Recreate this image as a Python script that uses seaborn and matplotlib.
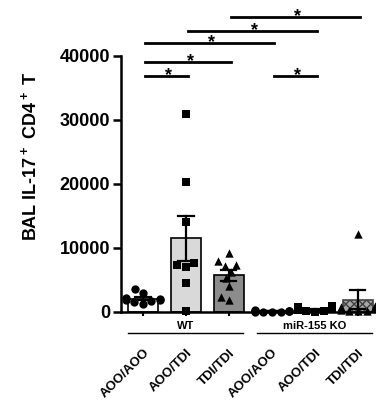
import numpy as np
import pandas as pd
import matplotlib
matplotlib.use('Agg')
import matplotlib.pyplot as plt
import matplotlib.transforms as mtransforms
import seaborn as sns

# Groups (unique keys) and their display labels
groups = ['WT AOO/AOO', 'WT AOO/TDI', 'WT TDI/TDI', 'KO AOO/AOO', 'KO AOO/TDI', 'KO TDI/TDI']
tick_labels = ['AOO/AOO', 'AOO/TDI', 'TDI/TDI', 'AOO/AOO', 'AOO/TDI', 'TDI/TDI']
strain_labels = ['WT', 'miR-155 KO']

# Values (cells per BAL)
wt_aoo_aoo = [3600, 3000, 2200, 2000, 1900, 1800, 1700, 1500, 1200]
wt_aoo_tdi = [31000, 20300, 14000, 7600, 7400, 7100, 4600, 100]
wt_tdi_tdi = [9200, 8000, 7400, 7200, 6300, 5300, 4100, 2300, 1900]
ko_aoo_aoo = [300, 200, 200, 150, 100, 100, 50, 50, 0, 0]
ko_aoo_tdi = [1000, 800, 600, 500, 400, 300, 200, 100, 0]
ko_tdi_tdi = [12200, 1000, 800, 600, 300, 100, 100, 100]

# Significance comparisons (group index pairs) and bar heights
sig_pairs = [(0, 1), (3, 4), (0, 2), (0, 3), (1, 4), (2, 5)]
sig_heights = [36900, 36900, 39100, 42000, 43900, 46100]

values = [wt_aoo_aoo, wt_aoo_tdi, wt_tdi_tdi, ko_aoo_aoo, ko_aoo_tdi, ko_tdi_tdi]
markers = ['o', 's', '^', 'o', 's', '^']
bar_colors = ['white', '#d9d9d9', '#8c8c8c', 'white', '#d9d9d9', '#a6a6a6']

rows = []
for g, vals, m in zip(groups, values, markers):
    for v in vals:
        rows.append({'group': g, 'value': v, 'marker': m})
df = pd.DataFrame(rows)

plt.rcParams['font.family'] = ['Liberation Sans', 'DejaVu Sans']
plt.rcParams['font.weight'] = 'bold'
plt.rcParams['mathtext.fontset'] = 'custom'
plt.rcParams['mathtext.rm'] = 'Liberation Sans:bold'
plt.rcParams['mathtext.bf'] = 'Liberation Sans:bold'

fig = plt.figure(figsize=(3.76, 4.0), dpi=100)
ax = fig.add_axes([0.322, 0.22, 0.678, 0.78])

sns.barplot(data=df, x='group', y='value', hue='group', order=groups, hue_order=groups,
            palette=bar_colors, legend=False, errorbar='se', capsize=0.35, width=0.68,
            edgecolor='black', linewidth=1.2,
            err_kws={'color': 'black', 'linewidth': 1.6}, ax=ax)

# hatched texture on the last bar
ax.patches[5].set_hatch('xxxx')
ax.patches[5].set_edgecolor('#404040')

for m in ['o', 's', '^']:
    sub = df[df['marker'] == m]
    sns.swarmplot(data=sub, x='group', y='value', order=groups, color='black',
                  marker=m, size=6, linewidth=0, ax=ax, clip_on=False, zorder=4)

ax.set_xlim(-0.51, 5.42)
ax.set_ylim(0, 48750)
ax.set_yticks([0, 10000, 20000, 30000, 40000])
ax.spines['left'].set_bounds(0, 40000)
ax.spines['top'].set_visible(False)
ax.spines['right'].set_visible(False)
for s in ['left', 'bottom']:
    ax.spines[s].set_linewidth(1.8)
ax.tick_params(axis='y', length=6, width=1.8, labelsize=13, pad=2)
ax.tick_params(axis='x', length=3, width=1.5, labelsize=9.5, pad=22)
ax.set_xticks(range(len(groups)))
ax.set_xticklabels(tick_labels, rotation=45, ha='right', rotation_mode='anchor',
                   fontweight='bold')
for lab in ax.get_xticklabels():
    lab.set_x(lab.get_position()[0])
for lab in ax.get_yticklabels():
    lab.set_fontweight('bold')
ax.set_xlabel('')
ax.set_ylabel(r'BAL IL-17$^+$ CD4$^+$ T', fontsize=13, fontweight='bold', labelpad=14)

# strain labels with underline below the axis
trans = mtransforms.blended_transform_factory(ax.transData, fig.transFigure)
for lab, (a, b) in zip(strain_labels, [(0, 2), (3, 5)]):
    ax.text((a + b) / 2, 0.186, lab, transform=trans, ha='center', va='center',
            fontsize=8, fontweight='bold')
    ax.plot([a - 0.35, b + 0.33], [0.168, 0.168], color='black', lw=1.0,
            transform=trans, clip_on=False)

# significance bars
for (i, j), h in zip(sig_pairs, sig_heights):
    ax.plot([i + 0.05, j + 0.05], [h, h], color='black', lw=2.0, clip_on=False)
    ax.text((i + j) / 2 + 0.1, h - 1300, '*', ha='center', va='bottom',
            fontsize=13, fontweight='bold')

fig.savefig('out.png', dpi=100)
